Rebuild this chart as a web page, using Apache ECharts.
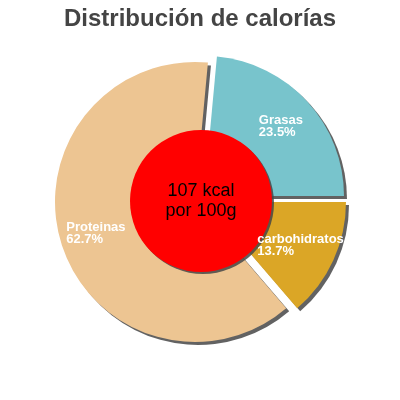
<!DOCTYPE html>
<html>
<head>
<meta charset="utf-8">
<script src="https://cdn.jsdelivr.net/npm/echarts@6/dist/echarts.min.js"></script>
<style>html,body{margin:0;padding:0;background:#fff}#c{width:400px;height:400px}</style>
</head>
<body>
<div id="c"></div>
<script>
const categories = ['Grasas', 'carbohidratos', 'Proteinas'];
const values = [23.5, 13.7, 62.7];
const centerLines = ['107 kcal', 'por 100g'];
const titleText = 'Distribución de calorías';

const sliceColors = ['#78c4cc', '#dba626', '#edc592'];
// per-slice pie centres (exploded slices are pushed outwards)
const sliceCenters = [[204, 196], [206, 202], [195, 202]];
const R = 140;
const START = 84.7;
const FONT = '"Liberation Sans", Arial, sans-serif';
const SHADOW = { shadowColor: 'rgba(70,70,70,0.85)', shadowBlur: 0, shadowOffsetX: 3, shadowOffsetY: 3 };

const series = [];
categories.forEach((cat, k) => {
  const dataFor = (withStyle) => categories.map((n, i) => ({
    name: n, value: values[i],
    itemStyle: i === k ? (withStyle ? Object.assign({ color: sliceColors[i] }, SHADOW) : { color: 'rgba(0,0,0,0)' })
                       : { color: 'rgba(0,0,0,0)', shadowColor: 'rgba(0,0,0,0)' },
    label: { show: !withStyle && i === k }
  }));
  series.push({
    type: 'pie', center: sliceCenters[k], radius: [0, R], startAngle: START, clockwise: true,
    silent: true, z: 2, label: { show: false }, labelLine: { show: false },
    emphasis: { disabled: true }, data: dataFor(true)
  });
  series.push({
    type: 'pie', center: sliceCenters[k], radius: [62, R], startAngle: START, clockwise: true,
    silent: true, z: 12, labelLine: { show: false },
    label: {
      position: 'inside', align: 'center',
      formatter: p => '{a|' + p.name + '}\n{a|' + p.value.toFixed(1) + '%}',
      rich: { a: { align: 'left', color: '#fff', fontFamily: FONT, fontSize: 13, fontWeight: 'bold', lineHeight: 12 } }
    },
    emphasis: { disabled: true }, data: dataFor(false)
  });
});
series.push({
  type: 'pie', center: [201, 201], radius: [0, 71], silent: true, z: 10,
  labelLine: { show: false },
  itemStyle: Object.assign({ color: '#ff0000' }, SHADOW, { shadowOffsetX: 2, shadowOffsetY: 2 }),
  label: {
    show: true, position: 'center', formatter: centerLines.join('\n'),
    color: '#000', fontFamily: FONT, fontSize: 18, lineHeight: 20
  },
  emphasis: { disabled: true },
  data: [{ name: 'kcal', value: 1 }]
});

const chart = echarts.init(document.getElementById('c'), null, { renderer: 'canvas' });
chart.setOption({
  animation: false,
  title: {
    text: titleText, left: 'center', top: 2,
    textStyle: { fontFamily: FONT, fontSize: 24, fontWeight: 'bold', color: '#444444' }
  },
  series: series
});
</script>
</body>
</html>
